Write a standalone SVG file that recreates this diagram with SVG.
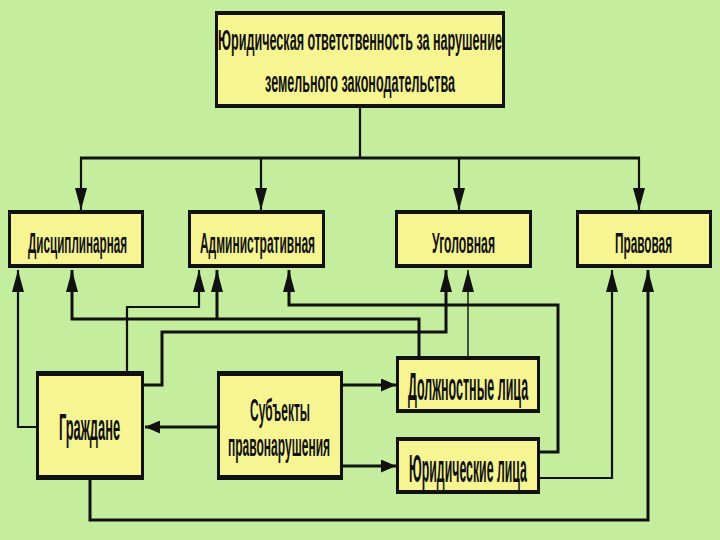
<svg xmlns="http://www.w3.org/2000/svg" width="720" height="540" viewBox="0 0 720 540">
<defs>
<style>
.bg{fill:#c4ee9d}
.bo{fill:#111}
.bi{fill:#f6f592}
.t{font-family:"Liberation Sans",Arial,sans-serif;font-weight:bold;fill:#111;text-anchor:middle}
.c{fill:none;stroke:#111;stroke-linejoin:miter}
.w3{stroke-width:3}
.w2{stroke-width:2.2}
.w1{stroke-width:1.4}
</style>
<marker id="av" markerUnits="userSpaceOnUse" markerWidth="22" markerHeight="12" viewBox="0 0 22 12" refX="22" refY="6" orient="auto">
<path d="M0,0 L22,6 L0,12 z" fill="#111"/>
</marker>
<marker id="ah" markerUnits="userSpaceOnUse" markerWidth="15" markerHeight="13" viewBox="0 0 15 13" refX="15" refY="6.5" orient="auto">
<path d="M0,0 L15,6.5 L0,13 z" fill="#111"/>
</marker>
</defs>
<rect class="bg" x="0" y="0" width="720" height="540"/>

<g id="connectors">
<path class="c w2" d="M360,108 V158"/>
<path class="c w3" d="M80,158 H640"/>
<path class="c w2" d="M81,158 V210" marker-end="url(#av)"/>
<path class="c w2" d="M261,158 V210" marker-end="url(#av)"/>
<path class="c w2" d="M459,158 V210" marker-end="url(#av)"/>
<path class="c w2" d="M639,158 V210" marker-end="url(#av)"/>

<path class="c w3" d="M217,427 H145" marker-end="url(#ah)"/>
<path class="c w3" d="M343,385 H396" marker-end="url(#ah)"/>
<path class="c w3" d="M343,466 H396" marker-end="url(#ah)"/>

<path class="c w2" d="M36,427 H18 V270" marker-end="url(#av)"/>
<path class="c w2" d="M127,371 V307 H199 V270" marker-end="url(#av)"/>
<path class="c w3" d="M144,385 H162 V332 H446 V270" marker-end="url(#av)"/>
<path class="c w3" d="M90,480 V520 H648 V270" marker-end="url(#av)"/>

<path class="c w3" d="M419,356 V319 H72 V270" marker-end="url(#av)"/>
<path class="c w3" d="M217,319 V270" marker-end="url(#av)"/>
<path class="c w1" d="M468,356 V270" marker-end="url(#av)"/>

<path class="c w3" d="M540,452 H558 V305 H289 V270" marker-end="url(#av)"/>
<path class="c w2" d="M540,478 H612 V270" marker-end="url(#av)"/>
</g>

<g id="n-top">
<rect class="bo" x="215" y="11" width="290" height="97"/>
<rect class="bi" x="218" y="15" width="284" height="89"/>
<text class="t" transform="translate(360,50) scale(0.45,1)" font-size="29" textLength="631" lengthAdjust="spacingAndGlyphs">Юридическая ответственность за нарушение</text>
<text class="t" transform="translate(360,92) scale(0.45,1)" font-size="29" textLength="422" lengthAdjust="spacingAndGlyphs">земельного законодательства</text>
</g>

<g id="n-disc">
<rect class="bo" x="8" y="210" width="136" height="58"/>
<rect class="bi" x="11" y="214" width="130" height="50"/>
<text class="t" transform="translate(77.5,253) scale(0.45,1)" font-size="30" textLength="220" lengthAdjust="spacingAndGlyphs">Дисциплинарная</text>
</g>

<g id="n-adm">
<rect class="bo" x="188" y="210" width="137" height="58"/>
<rect class="bi" x="191" y="214" width="131" height="50"/>
<text class="t" transform="translate(257.5,253) scale(0.45,1)" font-size="30" textLength="256" lengthAdjust="spacingAndGlyphs">Административная</text>
</g>

<g id="n-ugol">
<rect class="bo" x="395" y="210" width="137" height="58"/>
<rect class="bi" x="398" y="214" width="131" height="50"/>
<text class="t" transform="translate(463.5,253) scale(0.45,1)" font-size="30" textLength="140" lengthAdjust="spacingAndGlyphs">Уголовная</text>
</g>

<g id="n-prav">
<rect class="bo" x="576" y="210" width="136" height="58"/>
<rect class="bi" x="579" y="214" width="130" height="50"/>
<text class="t" transform="translate(643.5,253) scale(0.45,1)" font-size="30" textLength="127" lengthAdjust="spacingAndGlyphs">Правовая</text>
</g>

<g id="n-grazh">
<rect class="bo" x="36" y="371" width="108" height="109"/>
<rect class="bi" x="39" y="376" width="102" height="99"/>
<text class="t" transform="translate(89.5,440) scale(0.45,1)" font-size="37" textLength="136" lengthAdjust="spacingAndGlyphs">Граждане</text>
</g>

<g id="n-subj">
<rect class="bo" x="217" y="371" width="126" height="109"/>
<rect class="bi" x="220" y="376" width="120" height="99"/>
<text class="t" transform="translate(280,421) scale(0.45,1)" font-size="31" textLength="133" lengthAdjust="spacingAndGlyphs">Субъекты</text>
<text class="t" transform="translate(279,456) scale(0.45,1)" font-size="31" textLength="227" lengthAdjust="spacingAndGlyphs">правонарушения</text>
</g>

<g id="n-dolzh">
<rect class="bo" x="396" y="356" width="144" height="57"/>
<rect class="bi" x="399" y="360" width="138" height="49"/>
<text class="t" transform="translate(468,400) scale(0.45,1)" font-size="38" textLength="267" lengthAdjust="spacingAndGlyphs">Должностные лица</text>
</g>

<g id="n-yur">
<rect class="bo" x="396" y="437" width="144" height="57"/>
<rect class="bi" x="399" y="441" width="138" height="49"/>
<text class="t" transform="translate(468,482) scale(0.45,1)" font-size="38" textLength="262" lengthAdjust="spacingAndGlyphs">Юридические лица</text>
</g>
</svg>
